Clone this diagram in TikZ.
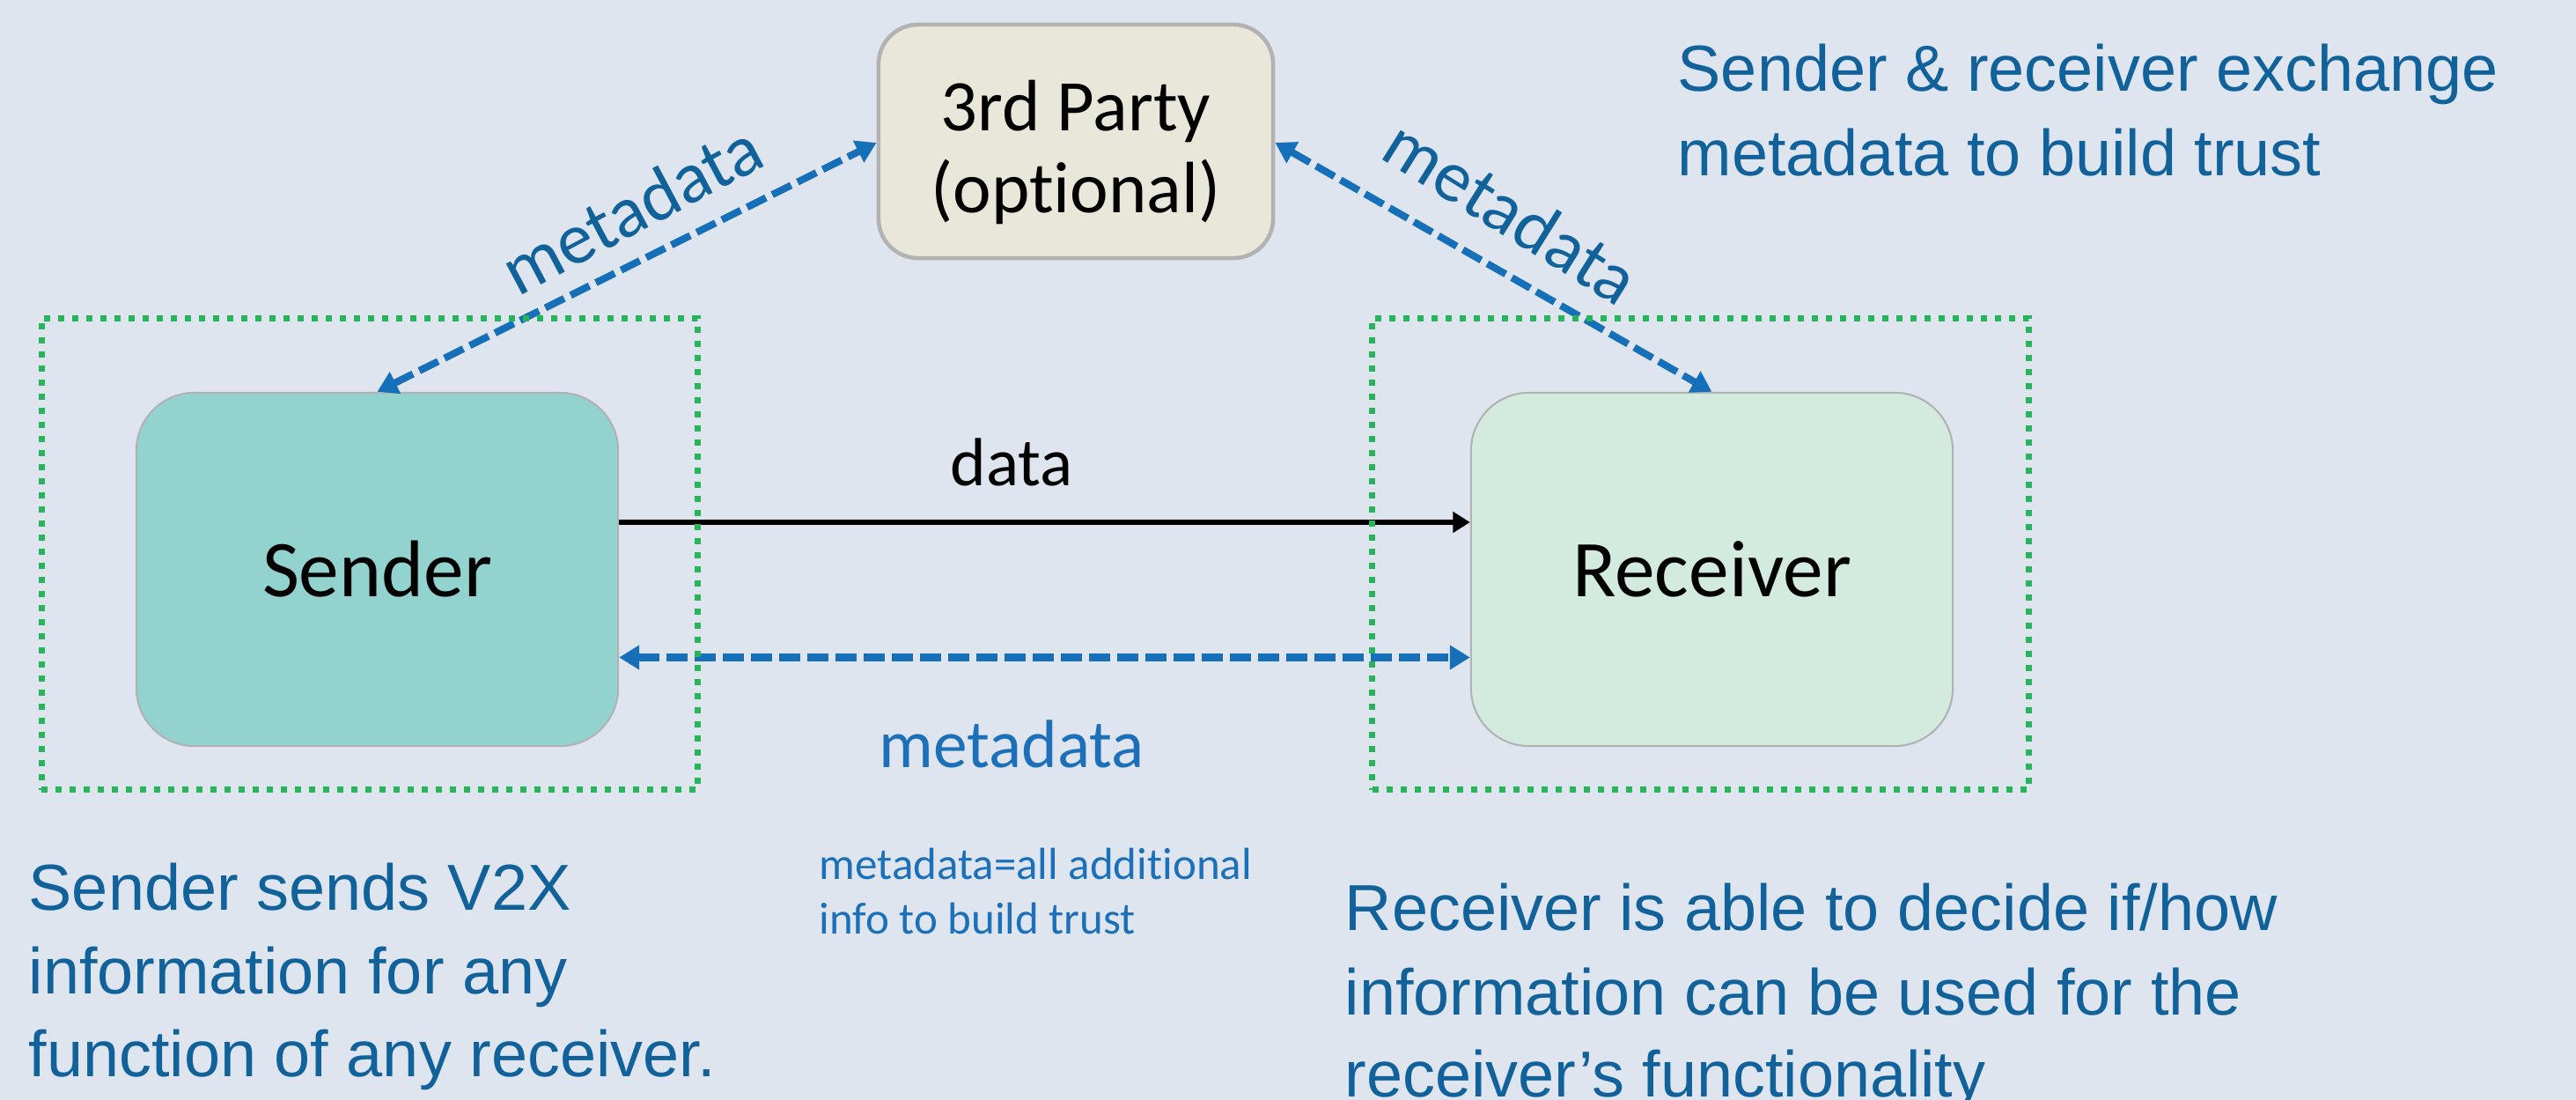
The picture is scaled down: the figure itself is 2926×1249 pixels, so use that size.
\documentclass[tikz,border=0pt]{standalone}
\usepackage{fontspec}
\setmainfont{Carlito}[Ligatures=NoCommon]
\newfontfamily\arialf{Liberation Sans}
\usetikzlibrary{arrows.meta,calc}
\definecolor{bg}{RGB}{223,229,239}
\definecolor{sendfill}{RGB}{146,211,207}
\definecolor{recvfill}{RGB}{211,235,223}
\definecolor{partyfill}{RGB}{233,231,218}
\definecolor{boxborder}{RGB}{178,178,178}
\definecolor{dotgreen}{RGB}{40,180,90}
\definecolor{arrowblue}{RGB}{22,112,185}
\definecolor{textblue}{RGB}{17,98,155}
\definecolor{labelblue}{RGB}{28,112,186}
\begin{document}
\begin{tikzpicture}[x=0.01cm,y=-0.01cm,
  mainbox/.style={draw=boxborder, line width=0.6pt, rounded corners=0.66cm,
    minimum width=5.47cm, minimum height=4.01cm, inner sep=0pt,
    font=\fontsize{26}{31}\selectfont},
  partybox/.style={draw=boxborder, line width=1.3pt, fill=partyfill, rounded corners=0.45cm,
    minimum width=4.48cm, minimum height=2.65cm, inner sep=0pt},
  greenbox/.style={draw=dotgreen, line width=2pt, dash pattern=on 2pt off 2.55pt,
    minimum width=7.45cm, minimum height=5.35cm, inner sep=0pt},
  metaarrow/.style={draw=arrowblue, line width=2.3pt, dash pattern=on 6.8pt off 2.3pt,
    {Triangle[length=6.5pt,width=7.5pt]}-{Triangle[length=6.5pt,width=7.5pt]}},
  dataarrow/.style={draw=black, line width=1.9pt, -{Triangle[length=5.5pt,width=6.5pt]}},
  bigtext/.style={anchor=base west, inner sep=0pt, text=textblue,
    font=\arialf\fontsize{21}{27}\selectfont},
  smalltext/.style={anchor=base west, inner sep=0pt, text=labelblue,
    font=\fontsize{14.5}{17.5}\selectfont},
  metalabel/.style={inner sep=0pt, text=textblue, font=\fontsize{23.5}{27}\selectfont},
]
\fill[bg] (0,0) rectangle (2926,1249);
\useasboundingbox (0,0) rectangle (2926,1249);

% boxes
\node[mainbox, fill=sendfill] (sender) at (428.5,646.5) {Sender};
\node[mainbox, fill=recvfill] (receiver) at (1944.5,646.5) {Receiver};
\node[partybox] (party) at (1222,160.5) {};
\node[align=center, inner sep=0pt, font=\fontsize{23.5}{26.5}\selectfont] (partytext) at (1222,173) {3rd Party\\(optional)};

% connectors
\draw[dataarrow] ($(sender.east)+(0,-53.5)$) -- ($(receiver.west)+(0,-53.5)$);
\draw[metaarrow] ($(sender.east)+(0,100)$) -- ($(receiver.west)+(0,100)$);
\draw[metaarrow] (sender.north) -- ($(party.west)+(0,1.5)$);
\draw[metaarrow] ($(party.east)+(0,1.5)$) -- (receiver.north);

% dotted frames
\node[greenbox] (gleft) at (420,629) {};
\node[greenbox] (gright) at (1931.5,629) {};

% labels
\node[anchor=base, inner sep=0pt, font=\fontsize{22}{26}\selectfont] (datalbl) at (1149,552) {data};
\node[anchor=base, inner sep=0pt, text=labelblue, font=\fontsize{22}{26}\selectfont] (metalbl) at (1149,871) {metadata};
\node[metalabel, rotate=28] (metaleft) at (717,237) {metadata};
\node[metalabel, rotate=-32] (metaright) at (1717,240) {metadata};

\node[smalltext] (n1) at (930,998) {metadata=all additional};
\node[smalltext] (n2) at (930,1060) {info to build trust};

\node[bigtext] (t1) at (1905,104) {Sender \& receiver exchange};
\node[bigtext] (t2) at (1905,200) {metadata to build trust};

\node[bigtext] (s1) at (32,1033) {Sender sends V2X};
\node[bigtext] (s2) at (32,1128) {information for any};
\node[bigtext] (s3) at (32,1222) {function of any receiver.};

\node[bigtext] (r1) at (1527,1056) {Receiver is able to decide if/how};
\node[bigtext] (r2) at (1527,1152) {information can be used for the};
\node[bigtext] (r3) at (1527,1245) {receiver’s functionality};
\end{tikzpicture}
\end{document}
